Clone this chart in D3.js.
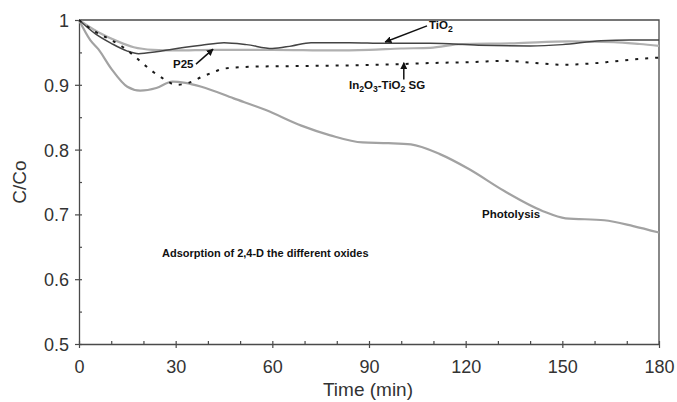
<!doctype html>
<html lang="en">
<head>
    <meta charset="utf-8"/>
    <title>Adsorption of 2,4-D</title>
    <script src="https://d3js.org/d3.v7.min.js"></script>
    <style>
        body { margin: 0; background: #fff; }
        svg text { font-family: Arial, "Liberation Sans", sans-serif; }
    </style>
</head>
<body>
<svg id="chart"></svg>
<script>
    // values, [time (min), C/Co]
    const tio2 = [[0,1.0],[5,0.979],[10,0.964],[15,0.952],[18.5,0.948],[24,0.951],[29,0.955],[38,0.961],
        [45,0.965],[52,0.962],[60,0.956],[66,0.960],[72,0.965],[84,0.965],[95,0.964],[109,0.964],
        [124,0.961],[140,0.960],[150,0.962],[162,0.968],[171,0.969],[180,0.969]];

    const p25 = [[0,1.0],[6,0.981],[12,0.967],[17,0.958],[23,0.954],[30,0.953],[42,0.954],[60,0.954],
        [79,0.953],[90,0.954],[100,0.956],[109,0.957],[119,0.963],[135,0.964],[152,0.967],[166,0.966],
        [174,0.963],[180,0.960]];

    const in2o3 = [[0,1.0],[5,0.982],[10,0.969],[14,0.957],[17,0.945],[20,0.932],[23,0.92],[27,0.907],
        [30,0.900],[34,0.903],[38,0.912],[42,0.920],[45,0.925],[54,0.928],[70,0.929],[84,0.930],
        [100,0.932],[112,0.934],[122,0.935],[132,0.937],[141,0.934],[150,0.931],[164,0.935],
        [172,0.939],[180,0.942]];

    const photolysis = [[0,1.0],[3.5,0.969],[6,0.955],[10,0.925],[15,0.897],[19,0.891],[24,0.895],
        [29,0.905],[33,0.903],[38,0.897],[48,0.879],[58,0.861],[69,0.837],[78,0.822],[88,0.811],
        [96,0.810],[103,0.808],[112,0.793],[121,0.770],[132,0.736],[144,0.705],[151,0.694],
        [163,0.691],[172,0.682],[180,0.672]];

    const xTicks = [0, 30, 60, 90, 120, 150, 180];
    const yTicks = [0.5, 0.6, 0.7, 0.8, 0.9, 1];

    let width = 677,
        height = 402,
        margin = {top: 20, right: 18, bottom: 58, left: 79};

    let svg = d3.select("#chart")
        .attr("width", width)
        .attr("height", height);

    let x = d3.scaleLinear().domain([0, 180]).range([margin.left, width - margin.right]);
    let y = d3.scaleLinear().domain([0.5, 1]).range([height - margin.bottom, margin.top]);

    let axisColor = "#4a4a4a";

    // frame (top + right, no ticks)
    svg.append("path")
        .attr("d", `M${x(0)},${y(1)}H${x(180)}V${y(0.5)}`)
        .attr("fill", "none")
        .attr("stroke", axisColor)
        .attr("stroke-width", 1.3);

    // x axis
    let gx = svg.append("g").attr("transform", `translate(0,${y(0.5)})`);
    gx.call(d3.axisBottom(x).tickValues(d3.range(0, 181, 10)).tickSize(0).tickFormat(""));
    gx.select(".domain").attr("stroke", axisColor).attr("stroke-width", 1.3);
    gx.selectAll(".tick line").remove();
    gx.selectAll(".tick").append("line")
        .attr("y1", -3)
        .attr("y2", d => d % 30 === 0 ? 4 : 0)
        .attr("stroke", axisColor).attr("stroke-width", 1.2);
    gx.selectAll(".tick").filter(d => xTicks.includes(d)).append("text")
        .attr("y", 29)
        .attr("text-anchor", "middle")
        .attr("fill", "#333")
        .attr("font-size", 18)
        .text(d => d);

    // y axis
    let gy = svg.append("g").attr("transform", `translate(${x(0)},0)`);
    gy.call(d3.axisLeft(y).tickValues(d3.range(0.5, 1.001, 0.05)).tickSize(0).tickFormat(""));
    gy.select(".domain").attr("stroke", axisColor).attr("stroke-width", 1.3);
    gy.selectAll(".tick line").remove();
    let isMajor = d => yTicks.some(v => Math.abs(v - d) < 1e-6);
    gy.selectAll(".tick").append("line")
        .attr("x1", d => isMajor(d) ? -4 : 0)
        .attr("x2", 3)
        .attr("stroke", axisColor).attr("stroke-width", 1.2);
    gy.selectAll(".tick").filter(d => isMajor(d)).append("text")
        .attr("x", -10)
        .attr("dy", "0.36em")
        .attr("text-anchor", "end")
        .attr("fill", "#333")
        .attr("font-size", 18)
        .text(d => Math.abs(d - 1) < 1e-6 ? "1" : d3.format(".1f")(d));

    // axis titles
    svg.append("text")
        .attr("x", (x(0) + x(180)) / 2 - 1)
        .attr("y", 396)
        .attr("text-anchor", "middle")
        .attr("fill", "#333")
        .attr("font-size", 19)
        .text("Time (min)");

    svg.append("text")
        .attr("transform", `translate(26,${(y(0.5) + y(1)) / 2}) rotate(-90)`)
        .attr("text-anchor", "middle")
        .attr("fill", "#333")
        .attr("font-size", 19)
        .text("C/Co");

    // curves
    let line = d3.line()
        .x(d => x(d[0]))
        .y(d => y(d[1]))
        .curve(d3.curveMonotoneX);

    let plot = svg.append("g");

    plot.append("path").datum(photolysis)
        .attr("d", line).attr("fill", "none")
        .attr("stroke", "#a2a2a2").attr("stroke-width", 2.2);

    plot.append("path").datum(p25)
        .attr("d", line).attr("fill", "none")
        .attr("stroke", "#b0b0b0").attr("stroke-width", 2.2);

    plot.append("path").datum(tio2)
        .attr("d", line).attr("fill", "none")
        .attr("stroke", "#444").attr("stroke-width", 1.5);

    plot.append("path").datum(in2o3)
        .attr("d", line).attr("fill", "none")
        .attr("stroke", "#1a1a1a").attr("stroke-width", 2)
        .attr("stroke-dasharray", "3,7");

    // arrows + labels
    svg.append("defs").append("marker")
        .attr("id", "arrow")
        .attr("viewBox", "0 0 10 10")
        .attr("refX", 9).attr("refY", 5)
        .attr("markerWidth", 7).attr("markerHeight", 7)
        .attr("markerUnits", "userSpaceOnUse")
        .attr("orient", "auto")
        .append("path")
        .attr("d", "M0,0L10,5L0,10z")
        .attr("fill", "#111");

    function arrow(t0, v0, t1, v1) {
        svg.append("line")
            .attr("x1", x(t0)).attr("y1", y(v0))
            .attr("x2", x(t1)).attr("y2", y(v1))
            .attr("stroke", "#111").attr("stroke-width", 1.5)
            .attr("marker-end", "url(#arrow)");
    }

    arrow(108, 0.991, 95, 0.966);
    arrow(36.3, 0.932, 41.6, 0.955);
    arrow(100.8, 0.908, 100.8, 0.934);

    // parts: plain strings or {sub: "2"}
    function label(px, py, parts, size) {
        let t = svg.append("text")
            .attr("x", px).attr("y", py)
            .attr("font-size", size)
            .attr("font-weight", "bold")
            .attr("fill", "#111");
        let lowered = false;
        parts.forEach(p => {
            if (typeof p === "object") {
                t.append("tspan").attr("dy", lowered ? 0 : 3).attr("font-size", size * 0.75).text(p.sub);
                lowered = true;
            } else {
                t.append("tspan").attr("dy", lowered ? -3 : 0).text(p);
                lowered = false;
            }
        });
    }

    label(429, 28.5, ["TiO", {sub: "2"}], 11.5);
    label(173, 68, ["P25"], 11.5);
    label(349, 89, ["In", {sub: "2"}, "O", {sub: "3"}, "-TiO", {sub: "2"}, " SG"], 11.5);
    label(482, 217.5, ["Photolysis"], 11.5);
    label(162, 256.5, ["Adsorption of 2,4-D the different oxides"], 11);
</script>
</body>
</html>
